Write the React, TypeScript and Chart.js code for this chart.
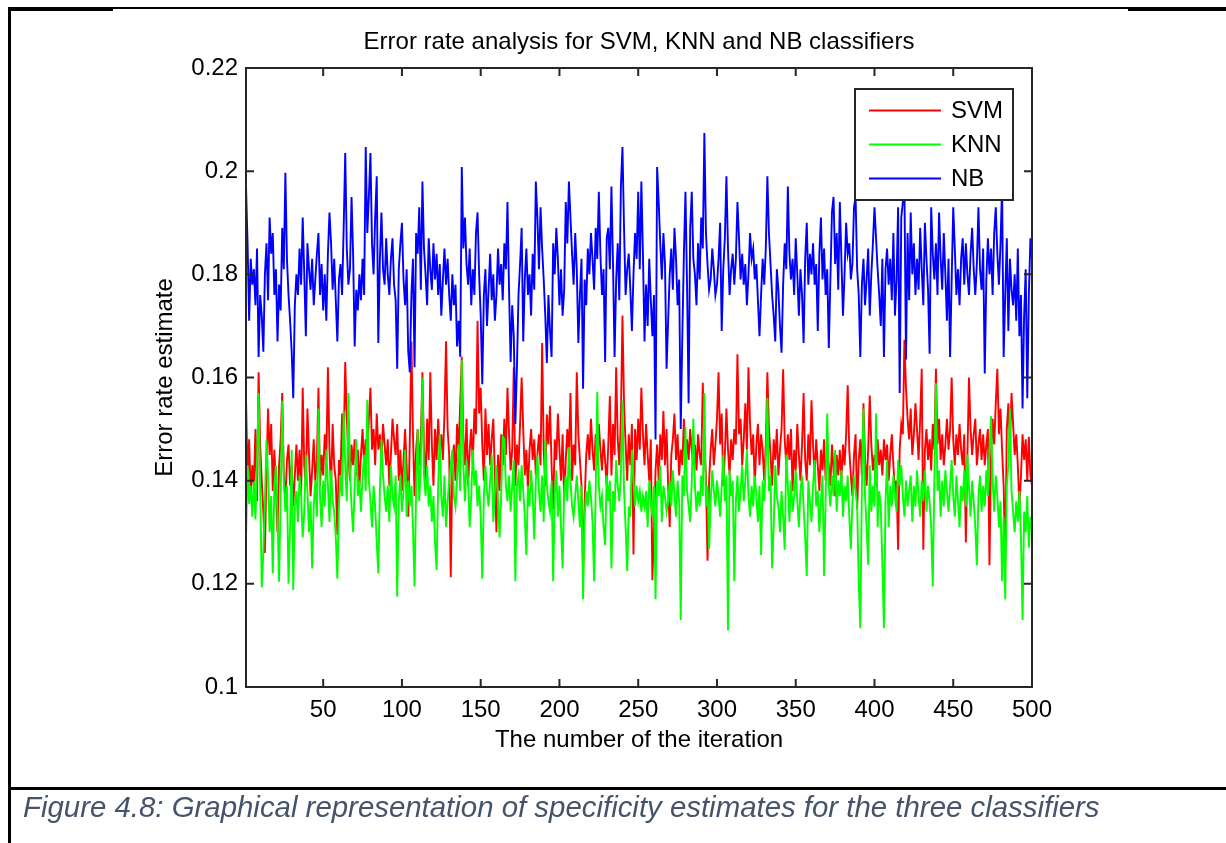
import React, { useEffect, useRef } from 'react';
import { Chart, registerables } from 'chart.js';

Chart.register(...registerables);

const FONT = '"Liberation Sans", Arial, Helvetica, sans-serif';

const chartTitle = 'Error rate analysis for SVM, KNN and NB classifiers';
const xAxisTitle = 'The number of the iteration';
const yAxisTitle = 'Error rate estimate';
const captionText = 'Figure 4.8: Graphical representation of specificity estimates for the three classifiers';

const seriesNames = ['SVM', 'KNN', 'NB'];
const seriesColors = ['#ff0000', '#00ff00', '#0000ff'];

const xTickValues = [50, 100, 150, 200, 250, 300, 350, 400, 450, 500];
const yTickValues = [0.1, 0.12, 0.14, 0.16, 0.18, 0.2, 0.22];
const yTickLabels = ['0.1', '0.12', '0.14', '0.16', '0.18', '0.2', '0.22'];

const svmValues = [
  0.156,0.141,0.148,0.137,0.143,0.139,0.150,0.136,0.161,0.147,
  0.140,0.134,0.126,0.142,0.154,0.145,0.151,0.138,0.146,0.139,
  0.130,0.143,0.148,0.157,0.141,0.136,0.144,0.147,0.139,0.143,
  0.135,0.141,0.147,0.140,0.146,0.137,0.158,0.143,0.139,0.154,
  0.145,0.137,0.142,0.148,0.140,0.144,0.158,0.139,0.145,0.141,
  0.149,0.144,0.162,0.146,0.138,0.151,0.143,0.140,0.1295,0.144,
  0.141,0.153,0.147,0.163,0.152,0.145,0.140,0.147,0.143,0.148,
  0.141,0.146,0.139,0.145,0.150,0.143,0.148,0.145,0.152,0.158,
  0.146,0.150,0.143,0.153,0.146,0.149,0.144,0.151,0.147,0.143,
  0.148,0.139,0.145,0.152,0.148,0.145,0.151,0.140,0.146,0.138,
  0.144,0.150,0.143,0.133,0.148,0.167,0.149,0.137,0.146,0.150,
  0.143,0.148,0.161,0.146,0.140,0.152,0.144,0.161,0.147,0.139,
  0.150,0.144,0.152,0.146,0.149,0.144,0.153,0.167,0.150,0.145,
  0.1213,0.143,0.147,0.140,0.151,0.146,0.155,0.164,0.148,0.143,
  0.152,0.139,0.146,0.150,0.143,0.154,0.149,0.171,0.153,0.158,
  0.147,0.140,0.154,0.145,0.151,0.143,0.148,0.152,0.141,0.130,
  0.145,0.138,0.149,0.143,0.152,0.145,0.158,0.149,0.142,0.146,
  0.162,0.139,0.147,0.143,0.151,0.160,0.150,0.141,0.146,0.138,
  0.146,0.150,0.144,0.148,0.141,0.145,0.149,0.143,0.1667,0.146,
  0.139,0.1528,0.147,0.1545,0.143,0.1345,0.148,0.144,0.153,0.146,
  0.140,0.149,0.136,0.144,0.150,0.145,0.157,0.140,0.147,0.143,
  0.161,0.149,0.144,0.139,0.1225,0.136,0.145,0.149,0.144,0.152,
  0.146,0.142,0.149,0.143,0.151,0.146,0.142,0.148,0.144,0.139,
  0.147,0.1564,0.141,0.151,0.145,0.162,0.148,0.143,0.152,0.172,
  0.155,0.147,0.140,0.149,0.143,0.151,0.1257,0.150,0.144,0.152,
  0.146,0.158,0.149,0.143,0.151,0.145,0.140,0.148,0.1207,0.131,
  0.142,0.147,0.140,0.149,0.144,0.1535,0.143,0.150,0.139,0.131,
  0.145,0.148,0.153,0.144,0.149,0.141,0.146,0.143,0.152,0.145,
  0.148,0.144,0.150,0.146,0.143,0.147,0.142,0.149,0.145,0.143,
  0.159,0.147,0.141,0.1245,0.140,0.146,0.150,0.143,0.147,0.152,
  0.161,0.147,0.153,0.139,0.145,0.154,0.146,0.141,0.148,0.144,
  0.150,0.147,0.1645,0.149,0.152,0.143,0.148,0.155,0.146,0.162,
  0.151,0.145,0.149,0.139,0.147,0.151,0.143,0.149,0.146,0.140,
  0.147,0.161,0.150,0.145,0.139,0.148,0.144,0.150,0.141,0.146,
  0.150,0.1616,0.148,0.143,0.149,0.144,0.150,0.138,0.146,0.142,
  0.151,0.145,0.140,0.147,0.157,0.144,0.140,0.149,0.143,0.1556,
  0.147,0.141,0.148,0.143,0.138,0.146,0.142,0.148,0.140,0.145,
  0.143,0.139,0.147,0.142,0.137,0.145,0.141,0.146,0.140,0.147,
  0.143,0.149,0.1585,0.146,0.141,0.137,0.145,0.149,0.1345,0.144,
  0.148,0.141,0.155,0.144,0.139,0.146,0.1565,0.147,0.142,0.145,
  0.139,0.148,0.143,0.146,0.141,0.148,0.144,0.147,0.140,0.145,
  0.149,0.143,0.138,0.140,0.1266,0.146,0.151,0.149,0.1673,0.158,
  0.152,0.148,0.154,0.145,0.149,0.155,0.150,0.144,0.152,0.1617,
  0.1266,0.146,0.150,0.144,0.148,0.142,0.151,0.146,0.1617,0.147,
  0.152,0.144,0.149,0.143,0.147,0.152,0.146,0.150,0.160,0.148,
  0.143,0.149,0.145,0.151,0.146,0.143,0.149,0.128,0.145,0.160,
  0.150,0.145,0.149,0.152,0.143,0.147,0.150,0.144,0.149,0.143,
  0.147,0.150,0.1236,0.145,0.152,0.147,0.155,0.1617,0.149,0.154,
  0.146,0.139,0.1245,0.150,0.155,0.147,0.157,0.151,0.145,0.149,
  0.143,0.135,0.141,0.149,0.144,0.148,0.140,0.1485,0.141,0.139,
];

const knnValues = [
  0.129,0.143,0.1355,0.139,0.133,0.140,0.1325,0.144,0.157,0.139,
  0.1193,0.126,0.136,0.148,0.141,0.130,0.137,0.122,0.139,0.143,
  0.133,0.1204,0.137,0.1555,0.140,0.134,0.139,0.120,0.131,0.146,
  0.1188,0.135,0.138,0.132,0.141,0.137,0.129,0.134,0.145,0.138,
  0.130,0.136,0.123,0.135,0.140,0.133,0.154,0.137,0.131,0.140,
  0.135,0.146,0.139,0.132,0.142,0.136,0.134,0.129,0.121,0.135,
  0.141,0.137,0.1535,0.143,0.136,0.157,0.142,0.135,0.130,0.139,
  0.148,0.137,0.140,0.134,0.141,0.145,0.138,0.1557,0.140,0.136,
  0.131,0.139,0.135,0.128,0.122,0.138,0.148,0.141,0.137,0.134,
  0.139,0.132,0.143,0.137,0.135,0.141,0.1175,0.136,0.141,0.134,
  0.138,0.146,0.133,0.140,0.135,0.139,0.131,0.1195,0.138,0.150,
  0.136,0.143,0.160,0.141,0.137,0.143,0.135,0.139,0.132,0.137,
  0.128,0.1227,0.139,0.149,0.137,0.133,0.141,0.131,0.136,0.140,
  0.143,0.146,0.137,0.135,0.140,0.147,0.138,0.1634,0.143,0.136,
  0.144,0.140,0.131,0.137,0.146,0.139,0.142,0.135,0.139,0.133,
  0.121,0.137,0.143,0.138,0.135,0.140,0.145,0.132,0.138,0.143,
  0.136,0.129,0.137,0.1485,0.148,0.139,0.136,0.141,0.134,0.139,
  0.144,0.1205,0.139,0.141,0.136,0.143,0.138,0.133,0.1256,0.139,
  0.135,0.142,0.137,0.1286,0.140,0.145,0.138,0.134,0.141,0.132,
  0.148,0.139,0.136,0.134,0.140,0.1205,0.137,0.142,0.133,0.139,
  0.131,0.123,0.138,0.141,0.136,0.1465,0.140,0.135,0.133,0.137,
  0.141,0.136,0.131,0.139,0.117,0.133,0.138,0.135,0.140,0.137,
  0.132,0.1205,0.138,0.1572,0.139,0.135,0.137,0.131,0.1275,0.141,
  0.136,0.140,0.123,0.138,0.134,0.144,0.139,0.136,0.141,0.1555,
  0.138,0.131,0.1225,0.135,0.133,0.146,0.140,0.135,0.139,0.136,
  0.138,0.134,0.137,0.135,0.138,0.131,0.140,0.136,0.133,0.139,
  0.117,0.140,0.137,0.143,0.132,0.139,0.137,0.134,0.136,0.140,
  0.135,0.142,0.137,0.133,0.140,0.136,0.113,0.141,0.137,0.1504,
  0.138,0.135,0.132,0.140,0.152,0.139,0.134,0.138,0.135,0.141,
  0.137,0.157,0.135,0.139,0.1267,0.136,0.142,0.138,0.135,0.140,
  0.137,0.133,0.139,0.145,0.136,0.141,0.111,0.142,0.137,0.140,
  0.1205,0.136,0.141,0.134,0.138,0.143,0.136,0.140,0.146,0.137,
  0.133,0.139,0.135,0.141,0.137,0.132,0.139,0.1256,0.140,0.136,
  0.143,0.156,0.138,0.141,0.123,0.131,0.143,0.137,0.135,0.130,
  0.138,0.133,0.1266,0.145,0.139,0.132,0.140,0.134,0.137,0.142,
  0.136,0.131,0.138,0.141,0.135,0.129,0.1215,0.140,0.136,0.132,
  0.139,0.144,0.135,0.138,0.130,0.136,0.141,0.1215,0.137,0.153,
  0.139,0.135,0.141,0.137,0.146,0.134,0.140,0.137,0.142,0.133,
  0.139,0.136,0.141,0.133,0.1267,0.136,0.141,0.138,0.135,0.1205,
  0.1114,0.139,0.154,0.137,0.131,0.1237,0.143,0.134,0.139,0.135,
  0.153,0.131,0.138,0.135,0.124,0.1114,0.136,0.144,0.131,0.139,
  0.135,0.141,0.137,0.134,0.144,0.139,0.143,0.137,0.133,0.140,
  0.135,0.138,0.141,0.132,0.139,0.135,0.142,0.137,0.133,0.140,
  0.136,0.142,0.134,0.139,0.136,0.131,0.1195,0.140,0.1589,0.138,
  0.142,0.133,0.140,0.135,0.142,0.138,0.134,0.139,0.144,0.137,
  0.133,0.141,0.136,0.131,0.139,0.136,0.142,0.135,0.145,0.139,
  0.133,0.140,0.136,0.131,0.1236,0.137,0.141,0.134,0.139,0.135,
  0.142,0.137,0.146,0.1525,0.140,0.134,0.141,0.137,0.131,0.136,
  0.1205,0.133,0.117,0.139,0.143,0.154,0.138,0.134,0.130,0.136,
  0.132,0.138,0.129,0.113,0.134,0.130,0.137,0.127,0.133,0.1305,
];

const nbValues = [
  0.197,0.186,0.171,0.183,0.178,0.181,0.174,0.185,0.164,0.176,
  0.172,0.165,0.180,0.186,0.175,0.191,0.184,0.188,0.176,0.181,
  0.167,0.178,0.173,0.189,0.181,0.1997,0.183,0.176,0.171,0.165,
  0.156,0.174,0.180,0.176,0.185,0.178,0.191,0.180,0.168,0.186,
  0.181,0.177,0.183,0.174,0.179,0.184,0.188,0.176,0.182,0.173,
  0.180,0.171,0.184,0.192,0.186,0.177,0.183,0.175,0.167,0.179,
  0.182,0.176,0.189,0.2035,0.185,0.178,0.181,0.195,0.184,0.166,
  0.177,0.173,0.180,0.175,0.183,0.176,0.2047,0.188,0.195,0.2035,
  0.186,0.180,0.191,0.199,0.1667,0.183,0.192,0.181,0.178,0.187,
  0.180,0.176,0.183,0.187,0.178,0.175,0.1617,0.181,0.186,0.190,
  0.179,0.174,0.181,0.165,0.161,0.176,0.183,0.162,0.188,0.184,
  0.193,0.177,0.198,0.185,0.180,0.174,0.187,0.181,0.177,0.186,
  0.179,0.184,0.176,0.182,0.172,0.179,0.185,0.178,0.183,0.176,
  0.171,0.180,0.174,0.178,0.166,0.171,0.164,0.2008,0.185,0.191,
  0.182,0.178,0.185,0.174,0.181,0.176,0.188,0.192,0.180,0.172,
  0.1587,0.176,0.181,0.170,0.177,0.184,0.175,0.180,0.171,0.176,
  0.185,0.178,0.182,0.175,0.186,0.181,0.194,0.177,0.163,0.174,
  0.168,0.151,0.162,0.176,0.182,0.189,0.167,0.179,0.185,0.176,
  0.180,0.172,0.184,0.177,0.198,0.191,0.181,0.193,0.185,0.179,
  0.172,0.1628,0.176,0.169,0.164,0.186,0.180,0.189,0.183,0.174,
  0.181,0.172,0.177,0.194,0.186,0.198,0.191,0.184,0.178,0.188,
  0.181,0.1667,0.176,0.183,0.1578,0.179,0.174,0.185,0.180,0.188,
  0.183,0.177,0.189,0.183,0.196,0.184,0.176,0.181,0.163,0.187,
  0.189,0.181,0.197,0.182,0.164,0.179,0.186,0.175,0.197,0.2047,
  0.189,0.176,0.181,0.184,0.177,0.169,0.180,0.188,0.183,0.196,
  0.181,0.198,0.184,0.167,0.178,0.170,0.183,0.175,0.168,0.176,
  0.148,0.2008,0.194,0.186,0.179,0.188,0.182,0.1617,0.171,0.180,
  0.185,0.177,0.189,0.183,0.174,0.179,0.150,0.168,0.184,0.196,
  0.178,0.155,0.189,0.196,0.183,0.180,0.174,0.186,0.179,0.191,
  0.185,0.2074,0.188,0.182,0.177,0.179,0.185,0.181,0.176,0.178,
  0.183,0.190,0.169,0.181,0.187,0.199,0.185,0.176,0.181,0.184,
  0.178,0.183,0.194,0.187,0.179,0.184,0.178,0.182,0.174,0.180,
  0.188,0.183,0.185,0.179,0.182,0.175,0.168,0.176,0.183,0.178,
  0.185,0.199,0.188,0.182,0.176,0.172,0.167,0.181,0.177,0.170,
  0.1648,0.178,0.186,0.181,0.197,0.184,0.179,0.183,0.176,0.187,
  0.180,0.172,0.181,0.176,0.1667,0.183,0.190,0.178,0.184,0.180,
  0.186,0.178,0.182,0.169,0.184,0.191,0.179,0.185,0.176,0.181,
  0.1657,0.179,0.192,0.195,0.182,0.188,0.177,0.194,0.183,0.172,
  0.180,0.190,0.184,0.186,0.179,0.182,0.193,0.195,0.181,0.176,
  0.164,0.178,0.183,0.174,0.179,0.185,0.172,0.180,0.186,0.193,
  0.187,0.181,0.176,0.170,0.183,0.164,0.181,0.185,0.178,0.183,
  0.175,0.188,0.172,0.179,0.193,0.157,0.191,0.194,0.197,0.1635,
  0.188,0.175,0.192,0.180,0.186,0.176,0.183,0.177,0.189,0.181,
  0.174,0.190,0.183,0.177,0.1646,0.193,0.184,0.179,0.186,0.176,
  0.192,0.183,0.177,0.188,0.180,0.171,0.183,0.164,0.179,0.193,
  0.185,0.176,0.181,0.174,0.183,0.187,0.178,0.186,0.180,0.176,
  0.184,0.189,0.181,0.176,0.182,0.193,0.181,0.177,0.185,0.1608,
  0.179,0.187,0.180,0.185,0.176,0.188,0.193,0.184,0.178,0.186,
  0.197,0.164,0.176,0.187,0.169,0.183,0.177,0.174,0.180,0.171,
  0.185,0.168,0.176,0.154,0.172,0.181,0.156,0.176,0.187,0.183,
];

const iterations = svmValues.map((_, i) => i + 1);
const seriesValues = [svmValues, knnValues, nbValues];
const drawOrder = [3, 2, 1];

const matlabAxesPlugin = {
  id: 'matlabAxes',
  afterDatasetsDraw(chart: any) {
    const { ctx, chartArea: a, scales } = chart;
    const xs = scales.x;
    const ys = scales.y;
    const tl = 8;
    ctx.save();
    ctx.strokeStyle = '#262626';
    ctx.lineWidth = 2;
    ctx.strokeRect(a.left, a.top, a.right - a.left, a.bottom - a.top);
    ctx.beginPath();
    xTickValues.forEach((v) => {
      const px = xs.getPixelForValue(v);
      ctx.moveTo(px, a.bottom);
      ctx.lineTo(px, a.bottom - tl);
      ctx.moveTo(px, a.top);
      ctx.lineTo(px, a.top + tl);
    });
    yTickValues.forEach((v) => {
      const py = ys.getPixelForValue(v);
      ctx.moveTo(a.left, py);
      ctx.lineTo(a.left + tl, py);
      ctx.moveTo(a.right, py);
      ctx.lineTo(a.right - tl, py);
    });
    ctx.stroke();
    ctx.restore();
  },
};

const boxLegendPlugin = {
  id: 'boxLegend',
  afterDraw(chart: any) {
    const { ctx, chartArea: a } = chart;
    const right = a.right - 19;
    const top = a.top + 21;
    const w = 158;
    const h = 111;
    const left = right - w;
    ctx.save();
    ctx.fillStyle = '#ffffff';
    ctx.fillRect(left, top, w, h);
    ctx.strokeStyle = '#262626';
    ctx.lineWidth = 2;
    ctx.strokeRect(left, top, w, h);
    ctx.font = `24px ${FONT}`;
    ctx.textBaseline = 'middle';
    ctx.textAlign = 'left';
    seriesNames.forEach((name, i) => {
      const yy = top + 21.5 + i * 34;
      ctx.strokeStyle = seriesColors[i];
      ctx.lineWidth = 1.8;
      ctx.beginPath();
      ctx.moveTo(left + 14, yy);
      ctx.lineTo(left + 86, yy);
      ctx.stroke();
      ctx.fillStyle = '#000000';
      ctx.fillText(name, left + 96, yy + 1);
    });
    ctx.restore();
  },
};

export default function App() {
  const canvasRef = useRef<HTMLCanvasElement | null>(null);

  useEffect(() => {
    const canvas = canvasRef.current;
    if (!canvas) return;
    const chart = new Chart(canvas, {
      type: 'line',
      data: {
        datasets: seriesNames.map((name, si) => ({
          label: name,
          data: seriesValues[si].map((v, i) => ({ x: iterations[i], y: v })),
          borderColor: seriesColors[si],
          backgroundColor: seriesColors[si],
          borderWidth: 1.9,
          pointRadius: 0,
          tension: 0,
          fill: false,
          order: drawOrder[si],
        })),
      },
      options: {
        responsive: false,
        animation: false,
        devicePixelRatio: 1,
        events: [],
        layout: { padding: { left: 0, right: 194, top: 0, bottom: 0 } },
        plugins: {
          legend: { display: false },
          tooltip: { enabled: false },
          title: {
            display: true,
            text: chartTitle,
            color: '#000000',
            fullSize: false,
            font: { family: FONT, size: 24, weight: 'normal' },
            padding: { top: 27.5, bottom: 11.7 },
          },
        },
        scales: {
          x: {
            type: 'linear',
            min: 1,
            max: 500,
            grid: { display: false, drawTicks: false },
            border: { display: false },
            ticks: {
              color: '#000000',
              font: { family: FONT, size: 24 },
              padding: 9,
              maxRotation: 0,
              autoSkip: false,
              callback: (v: any) => String(v),
            },
            title: {
              display: true,
              text: xAxisTitle,
              color: '#000000',
              font: { family: FONT, size: 24 },
              padding: { top: 0, bottom: 33.6 },
            },
            afterBuildTicks: (s: any) => {
              s.ticks = xTickValues.map((v) => ({ value: v }));
            },
            afterFit: (s: any) => {
              s.height = 101;
            },
          },
          y: {
            type: 'linear',
            min: 0.1,
            max: 0.22,
            grid: { display: false, drawTicks: false },
            border: { display: false },
            ticks: {
              color: '#000000',
              font: { family: FONT, size: 24 },
              padding: 8,
              autoSkip: false,
              callback: (v: any) => {
                const idx = yTickValues.findIndex((t) => Math.abs(t - v) < 1e-9);
                return idx >= 0 ? yTickLabels[idx] : '';
              },
            },
            title: {
              display: true,
              text: yAxisTitle,
              color: '#000000',
              font: { family: FONT, size: 24 },
              padding: { top: 151, bottom: 0 },
            },
            afterBuildTicks: (s: any) => {
              s.ticks = yTickValues.map((v) => ({ value: v }));
            },
            afterFit: (s: any) => {
              s.width = 246;
            },
          },
        },
      },
      plugins: [matlabAxesPlugin, boxLegendPlugin],
    } as any);
    return () => chart.destroy();
  }, []);

  return (
    <div
      style={{
        position: 'absolute',
        left: 0,
        top: 0,
        width: 1226,
        height: 843,
        background: '#ffffff',
        overflow: 'hidden',
      }}
    >
      <canvas
        ref={canvasRef}
        width={1226}
        height={788}
        style={{ position: 'absolute', left: 0, top: 0, width: 1226, height: 788 }}
      />
      <div style={{ position: 'absolute', left: 9, top: 7, width: 1217, height: 2, background: '#000' }} />
      <div style={{ position: 'absolute', left: 9, top: 8, width: 104, height: 3, background: '#000' }} />
      <div style={{ position: 'absolute', left: 1128, top: 8, width: 98, height: 3, background: '#000' }} />
      <div style={{ position: 'absolute', left: 8, top: 7, width: 3, height: 836, background: '#000' }} />
      <div style={{ position: 'absolute', left: 8, top: 787, width: 1218, height: 3, background: '#000' }} />
      <div
        style={{
          position: 'absolute',
          left: 23,
          top: 790,
          fontFamily: FONT,
          fontStyle: 'italic',
          fontSize: 29.4,
          lineHeight: '34px',
          color: '#44546A',
          whiteSpace: 'nowrap',
        }}
      >
        {captionText}
      </div>
    </div>
  );
}
